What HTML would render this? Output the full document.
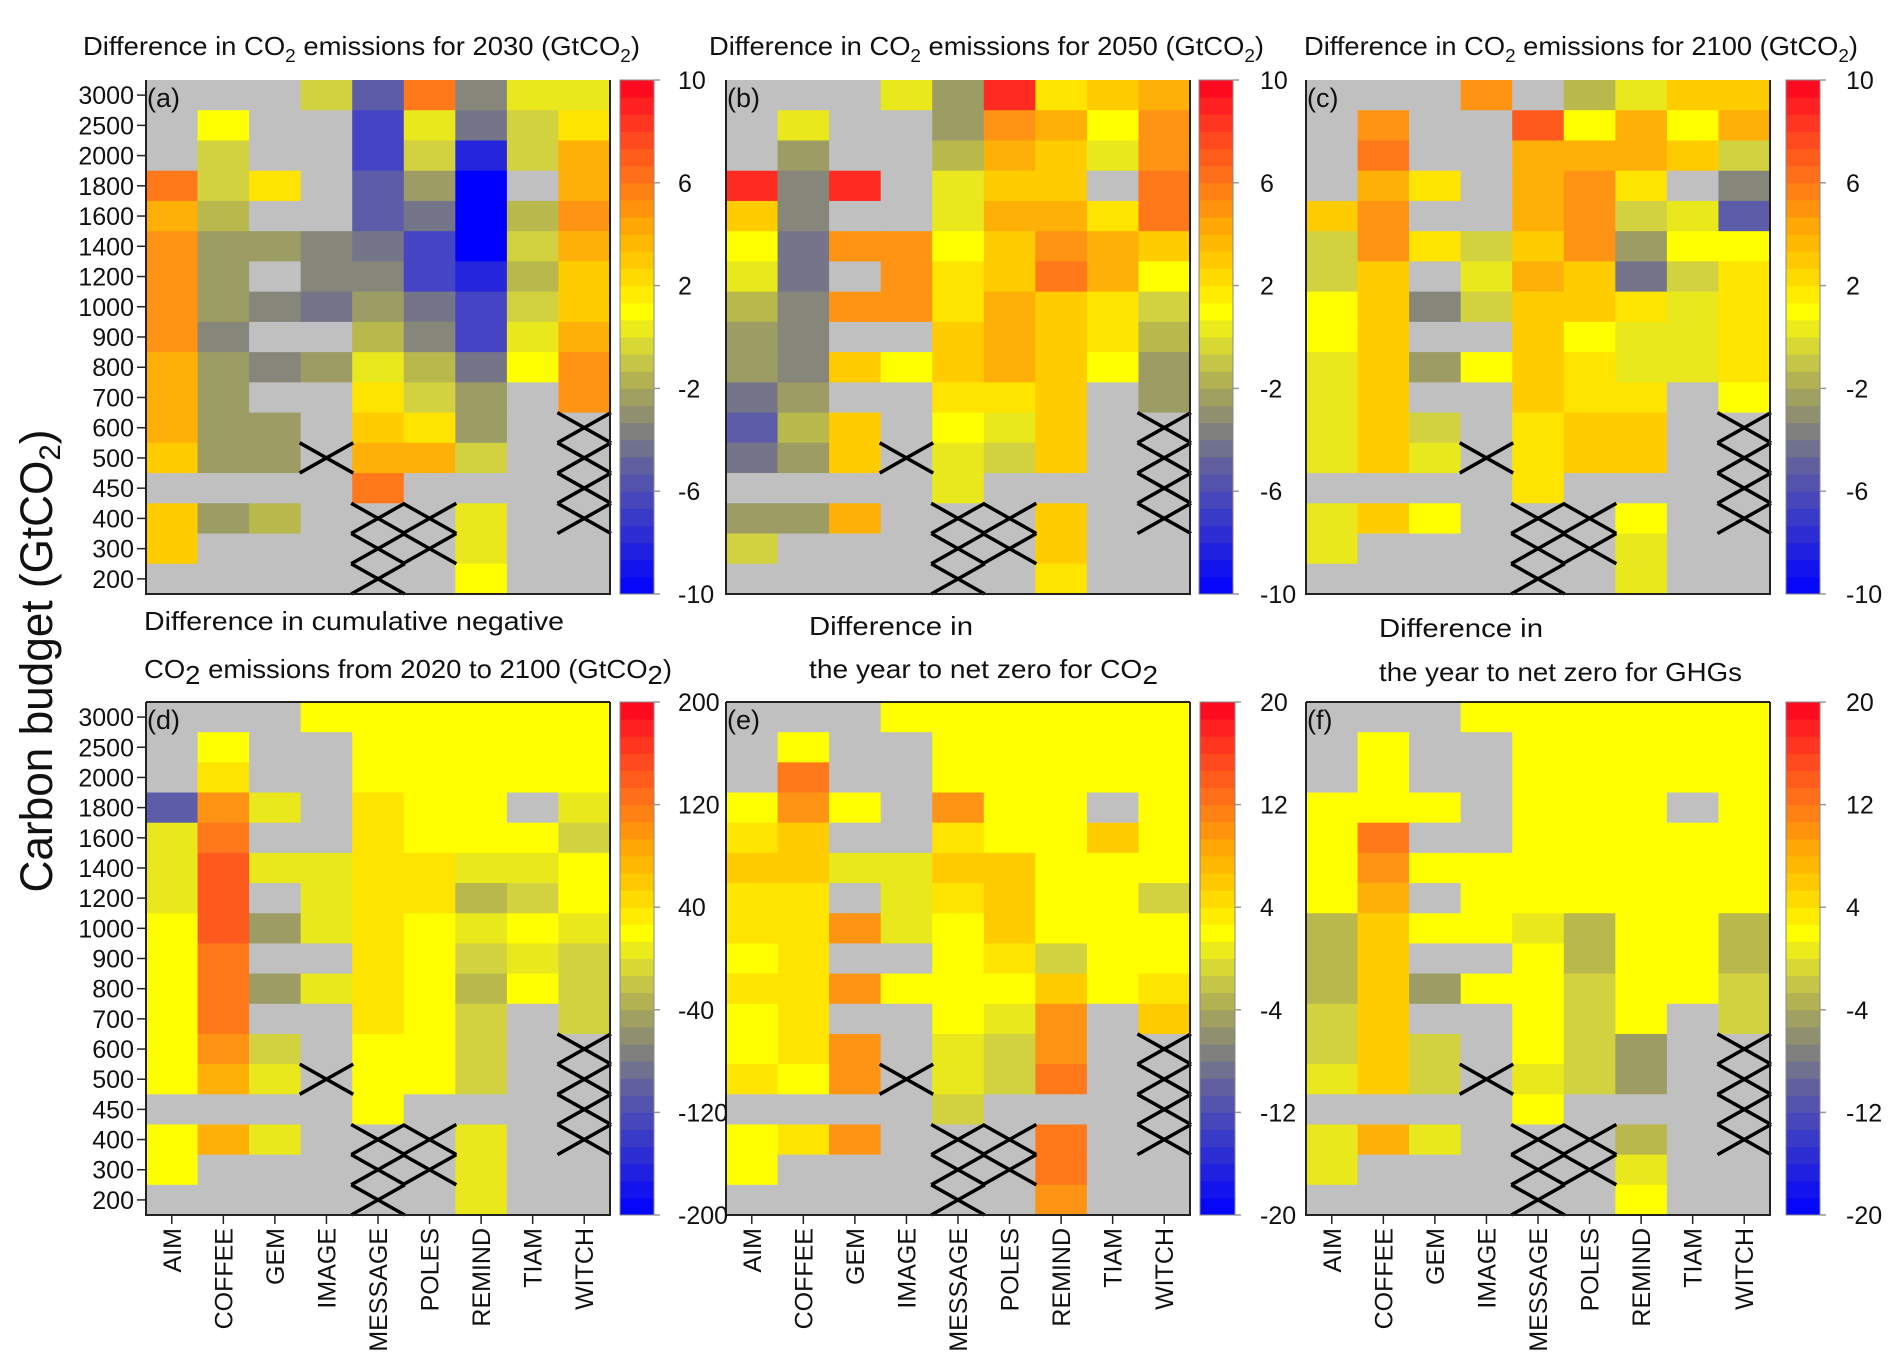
<!DOCTYPE html>
<html><head><meta charset="utf-8"><style>
html,body{margin:0;padding:0;background:#fff;}
svg{display:block;}
text{font-family:"Liberation Sans",sans-serif;fill:#111;}
</style></head><body>
<svg id="s" xmlns="http://www.w3.org/2000/svg" width="1892" height="1361" viewBox="0 0 1892 1361">
<g id="cells"></g>
<g font-size="26">
<text x="83" y="55" textLength="557" lengthAdjust="spacingAndGlyphs">Difference in CO<tspan font-size="18" dy="7">2</tspan><tspan dy="-7"> emissions for 2030 (GtCO</tspan><tspan font-size="18" dy="7">2</tspan><tspan dy="-7">)</tspan></text>
<text x="709" y="55" textLength="555" lengthAdjust="spacingAndGlyphs">Difference in CO<tspan font-size="18" dy="7">2</tspan><tspan dy="-7"> emissions for 2050 (GtCO</tspan><tspan font-size="18" dy="7">2</tspan><tspan dy="-7">)</tspan></text>
<text x="1304" y="55" textLength="554" lengthAdjust="spacingAndGlyphs">Difference in CO<tspan font-size="18" dy="7">2</tspan><tspan dy="-7"> emissions for 2100 (GtCO</tspan><tspan font-size="18" dy="7">2</tspan><tspan dy="-7">)</tspan></text>
<text x="144" y="630" textLength="420" lengthAdjust="spacingAndGlyphs">Difference in cumulative negative</text>
<text x="144" y="678" textLength="528" lengthAdjust="spacingAndGlyphs">CO<tspan font-size="26" dy="6">2</tspan><tspan dy="-6"> emissions from 2020 to 2100 (GtCO</tspan><tspan font-size="26" dy="6">2</tspan><tspan dy="-6">)</tspan></text>
<text x="809" y="635" textLength="164" lengthAdjust="spacingAndGlyphs">Difference in</text>
<text x="809" y="678" textLength="349" lengthAdjust="spacingAndGlyphs">the year to net zero for CO<tspan font-size="26" dy="6">2</tspan></text>
<text x="1379" y="637" textLength="164" lengthAdjust="spacingAndGlyphs">Difference in</text>
<text x="1379" y="681" textLength="363" lengthAdjust="spacingAndGlyphs">the year to net zero for GHGs</text>
</g>
<text transform="translate(52,661) rotate(-90)" text-anchor="middle" font-size="45" textLength="463" lengthAdjust="spacingAndGlyphs">Carbon budget (GtCO<tspan font-size="30" dy="8">2</tspan><tspan dy="-8">)</tspan></text>
<g id="txt" font-size="25"></g>
</svg>
<script>
var C={G:'#c0c0c0',Y:'#ffff00',y:'#e8e81c',l:'#d2d240',o:'#b8b84c',O:'#9c9c64',k:'#86867a',s:'#75758a',p:'#5c5ca8',b:'#4444c4',B:'#2525de',D:'#0000ff','1':'#ffe400','2':'#ffcc00','3':'#ffb008','4':'#ff9414','5':'#ff781a','6':'#ff5a1e','7':'#ff2a22'};
var P=[
{x:146,y:80,h:514,cb:[620,654],lx:678,lab:['10','6','2','-2','-6','-10'],t:'(a)',yl:1,xl:0,d:
['GGGlp5kyy','GYGGbysl1','GlGGblBl3','5l1GpODG3','3oGGpsDo4','4OOksbDl3','4OGkkbBo2','4OksOsbl2','4kGGokby3','3OkOyosY4','3OGG1lOG4','3OOG21OGG','2OOG33lGG','GGGG5GGGG','2OoGGGyGG','2GGGGGyGG','GGGGGGYGG']},
{x:726,y:80,h:514,cb:[1199,1233],lx:1260,lab:['10','6','2','-2','-6','-10'],t:'(b)',d:
['GGGyO7123','GyGGO43Y4','GOGGo32y4','7k7Gy22G5','2kGGy3315','Ys44Y2432','ysG41253Y','ok441321l','OkGG2321o','Ok2Y232YO','sOGG112GO','po2GYy2GG','sO2Gyl2GG','GGGGyGGGG','OO3GGG2GG','lGGGGG2GG','GGGGGG1GG']},
{x:1306,y:80,h:514,cb:[1786,1820],lx:1846,lab:['10','6','2','-2','-6','-10'],t:'(c)',d:
['GGG4Goy22','G4GG6Y3Y3','G5GG3332l','G31G341Gk','24GG34lyp','l41l24OYY','l2Gy32sl1','Y2kl221y1','Y2GG2Yyy1','y2OY21yy1','y2GG211GY','y2lG122GG','y2yG122GG','GGGG1GGGG','y2YGGGYGG','yGGGGGyGG','GGGGGGyGG']},
{x:146,y:702,h:513,cb:[620,654],lx:678,lab:['200','120','40','-40','-120','-200'],t:'(d)',yl:1,xl:1,d:
['GGGYYYYYY','GYGGYYYYY','G1GGYYYYY','p4yG1YYGy','y5GG1YYYl','y6yy11yyY','y6Gy11olY','Y6Oy1YyYy','Y5GG1Ylyl','Y5Oy1YoYl','Y5GG1YlGl','Y4lGYYlGG','Y3yGYYlGG','GGGGYGGGG','Y3yGGGyGG','YGGGGGyGG','GGGGGGyGG']},
{x:726,y:702,h:513,cb:[1200,1235],lx:1260,lab:['20','12','4','-4','-12','-20'],t:'(e)',xl:1,d:
['GGGYYYYYY','GYGGYYYYY','G5GGYYYYY','Y4YG4YYGY','12GG1YY2Y','22yy22YYY','11Gy12YYl','114yY2YYY','Y1GGY1lYY','114YYY2Y1','Y1GGYy4G2','Y14Gyl4GG','1Y4Gyl5GG','GGGGlGGGG','Y14GGG5GG','YGGGGG5GG','GGGGGG4GG']},
{x:1306,y:702,h:513,cb:[1786,1820],lx:1846,lab:['20','12','4','-4','-12','-20'],t:'(f)',xl:1,d:
['GGGYYYYYY','GYGGYYYYY','GYGGYYYYY','YYYGYYYGY','Y5GGYYYYY','Y4YYYYYYY','Y3GYYYYYY','o2YYyoYYo','o2GGYoYYo','o2OYYlYYl','l2GGYlYGl','l2lGYlOGG','y2lGylOGG','GGGGYGGGG','y3yGGGoGG','yGGGGGyGG','GGGGGGYGG']}
];
var stops=[[0,[0,0,255]],[.15,[58,58,200]],[.25,[96,96,160]],[.33,[134,134,120]],[.4,[168,168,88]],[.47,[208,208,64]],[.55,[255,255,0]],[.62,[255,216,0]],[.7,[255,176,0]],[.8,[255,120,24]],[.9,[255,64,32]],[1,[255,0,32]]];
function cm(t){for(var i=1;i<stops.length;i++){if(t<=stops[i][0]){var a=stops[i-1],b=stops[i],f=(t-a[0])/(b[0]-a[0]);return 'rgb('+[0,1,2].map(function(k){return Math.round(a[1][k]+(b[1][k]-a[1][k])*f)}).join(',')+')';}}return 'rgb(255,0,32)';}
var cols=['AIM','COFFEE','GEM','IMAGE','MESSAGE','POLES','REMIND','TIAM','WITCH'];
var rows=['3000','2500','2000','1800','1600','1400','1200','1000','900','800','700','600','500','450','400','300','200'];
var crosses=[[3,12],[4,14],[4,15],[4,16],[5,14],[5,15],[8,11],[8,12],[8,13],[8,14]];
var s='',T='';
P.forEach(function(p){
 var W=464,cw=W/9,rh=p.h/17;
 p.d.forEach(function(r,ri){for(var ci=0;ci<9;ci++){s+='<rect x="'+(p.x+ci*cw).toFixed(2)+'" y="'+(p.y+ri*rh).toFixed(2)+'" width="'+(cw+0.6).toFixed(2)+'" height="'+(rh+0.6).toFixed(2)+'" fill="'+C[r[ci]]+'"/>';}});
 crosses.forEach(function(c){var x0=p.x+c[0]*cw-1,x1=x0+cw+2,y0=p.y+c[1]*rh,y1=y0+rh;s+='<path d="M'+x0+' '+y0+'L'+x1+' '+y1+'M'+x0+' '+y1+'L'+x1+' '+y0+'" stroke="#000" stroke-width="3.5"/>';});
 s+='<path d="M'+p.x+' '+p.y+'V'+(p.y+p.h)+'H'+(p.x+W)+'V'+p.y+'" fill="none" stroke="#222" stroke-width="2"/>';
 if(p.y>600) s+='<line x1="'+p.x+'" y1="'+p.y+'" x2="'+(p.x+W)+'" y2="'+p.y+'" stroke="#222" stroke-width="2"/>';
 var n=30,bh=p.h/n;
 for(var i=0;i<n;i++){s+='<rect x="'+p.cb[0]+'" y="'+(p.y+p.h-(i+1)*bh).toFixed(2)+'" width="'+(p.cb[1]-p.cb[0])+'" height="'+(bh+0.5).toFixed(2)+'" fill="'+cm((i+0.5)/n)+'"/>';}
 s+='<rect x="'+p.cb[0]+'" y="'+p.y+'" width="'+(p.cb[1]-p.cb[0])+'" height="'+p.h+'" fill="none" stroke="#888" stroke-width="1"/>';
 p.lab.forEach(function(l,i){var yy=p.y+p.h*i/5;s+='<line x1="'+p.cb[1]+'" y1="'+yy+'" x2="'+(p.cb[1]+6)+'" y2="'+yy+'" stroke="#999" stroke-width="1.5"/>';T+='<text x="'+p.lx+'" y="'+(yy+9)+'">'+l+'</text>';});
 T+='<text x="'+(p.x+1)+'" y="'+(p.y+27)+'" font-size="27">'+p.t+'</text>';
 if(p.yl){rows.forEach(function(r,ri){var yy=p.y+(ri+0.5)*rh;s+='<line x1="'+(p.x-9)+'" y1="'+yy+'" x2="'+p.x+'" y2="'+yy+'" stroke="#222" stroke-width="1.5"/>';T+='<text x="'+(p.x-12)+'" y="'+(yy+9)+'" text-anchor="end">'+r+'</text>';});}
 if(p.xl){cols.forEach(function(c,ci){var xx=p.x+(ci+0.5)*cw;s+='<line x1="'+xx+'" y1="'+(p.y+p.h)+'" x2="'+xx+'" y2="'+(p.y+p.h+9)+'" stroke="#222" stroke-width="1.5"/>';T+='<text transform="translate('+(xx+9)+','+(p.y+p.h+13)+') rotate(-90)" text-anchor="end">'+c+'</text>';});}
});
document.getElementById('cells').innerHTML=s;
document.getElementById('txt').innerHTML=T;
</script>
</body></html>
